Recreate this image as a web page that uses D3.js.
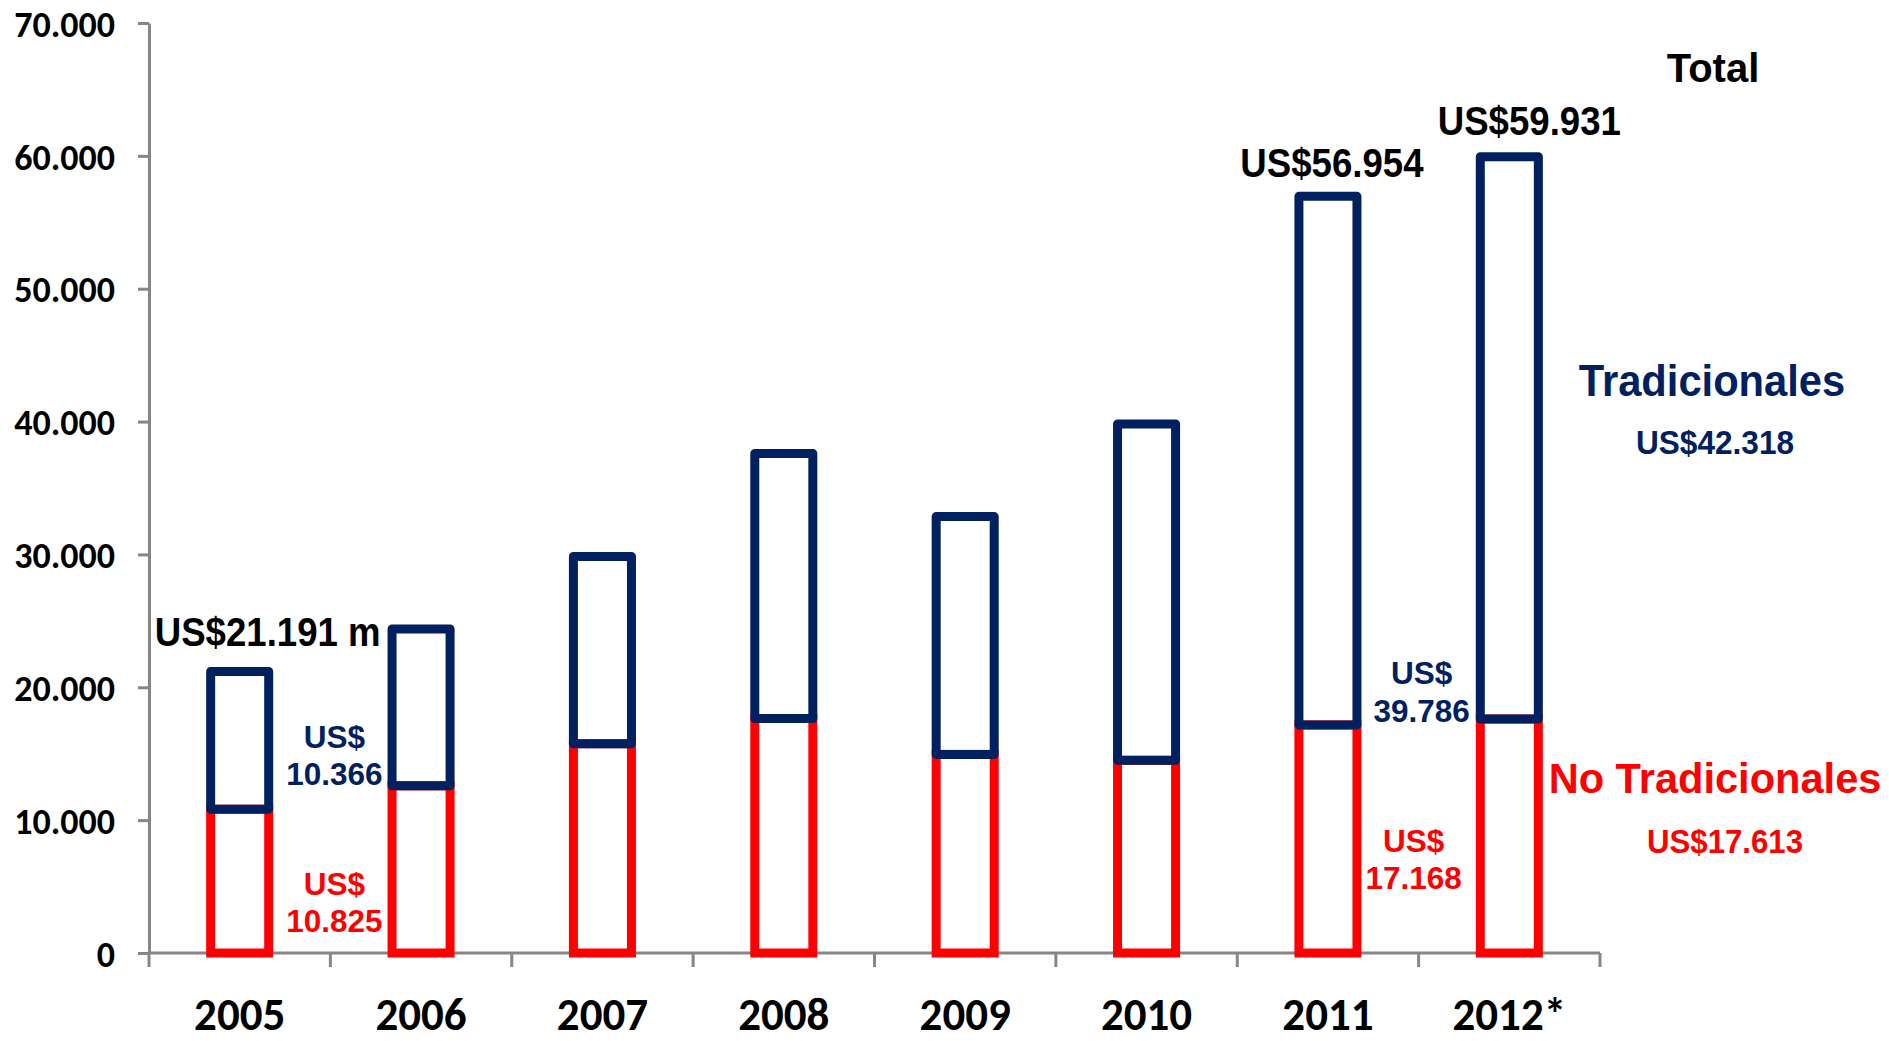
<!DOCTYPE html>
<html>
<head>
<meta charset="utf-8">
<script src="https://cdn.jsdelivr.net/npm/d3@7"></script>
<style>
  body { margin: 0; background: #fff; }
  .axis path, .axis line { stroke: #868686; stroke-width: 3; }
  .axis text { font-family: Carlito, Lato, sans-serif; font-weight: 900; fill: #000; }
</style>
</head>
<body>
<div id="chart"></div>
<script>
// exportaciones (US$ millones)
var years = ["2005", "2006", "2007", "2008", "2009", "2010", "2011", "2012*"];
var noTradicionales = [10825, 12580, 15750, 17650, 14950, 14500, 17168, 17613];
var tradicionales = [10366, 11810, 14100, 19950, 17900, 25320, 39786, 42318];
var yTicks = [0, 10000, 20000, 30000, 40000, 50000, 60000, 70000];

var navy = "#002060", red = "#ff0000";

var svg = d3.select("#chart").append("svg").attr("width", 1889).attr("height", 1041);

var x = d3.scaleBand().domain(years).range([149, 1600]).paddingInner(0.68).paddingOuter(0.34);
var y = d3.scaleLinear().domain([0, 70000]).range([953, 23]);

var fmt = function (v) { return d3.format(",")(v).replace(/,/g, "."); };

// eje Y
svg.append("g")
  .attr("class", "axis")
  .attr("transform", "translate(149,0)")
  .call(d3.axisLeft(y).tickValues(yTicks).tickSize(11).tickSizeOuter(0).tickPadding(23).tickFormat(fmt))
  .call(function (g) {
    g.selectAll("text").attr("font-size", 36).attr("dy", "0.36em").attr("transform", "scale(1,1.02)");
  });

// eje X: linea y marcas entre categorias
var xAxis = svg.append("g").attr("class", "axis");
xAxis.append("line").attr("x1", 149).attr("x2", 1600).attr("y1", y(0)).attr("y2", y(0));
xAxis.selectAll(".sep")
  .data(d3.range(years.length + 1))
  .enter().append("line")
  .attr("x1", function (i) { return 149 + i * x.step(); })
  .attr("x2", function (i) { return 149 + i * x.step(); })
  .attr("y1", y(0)).attr("y2", y(0) + 14);

function label(text, cx, by, size, sy, color, family, weight) {
  svg.append("text")
    .attr("transform", "translate(" + cx + "," + by + ") scale(1," + sy + ")")
    .attr("text-anchor", "middle")
    .attr("font-family", family || "'Liberation Sans', Arial, sans-serif")
    .attr("font-weight", weight || "bold")
    .attr("font-size", size)
    .attr("fill", color)
    .text(text);
}

// años
years.forEach(function (d) {
  label(d, x(d) + x.bandwidth() / 2, 1030, 45, 1.02, "#000", "Carlito, Lato, sans-serif", 900);
});

// barras: no tradicionales (abajo) y tradicionales (arriba)
svg.selectAll(".noTrad")
  .data(years)
  .enter().append("rect")
  .attr("class", "noTrad")
  .attr("x", function (d) { return x(d); })
  .attr("width", x.bandwidth())
  .attr("y", function (d, i) { return y(noTradicionales[i]); })
  .attr("height", function (d, i) { return y(0) - y(noTradicionales[i]); })
  .attr("fill", "none")
  .attr("stroke", red)
  .attr("stroke-width", 9);

svg.selectAll(".trad")
  .data(years)
  .enter().append("rect")
  .attr("class", "trad")
  .attr("x", function (d) { return x(d); })
  .attr("width", x.bandwidth())
  .attr("y", function (d, i) { return y(noTradicionales[i] + tradicionales[i]); })
  .attr("height", function (d, i) { return y(noTradicionales[i]) - y(noTradicionales[i] + tradicionales[i]); })
  .attr("fill", "none")
  .attr("stroke", navy)
  .attr("stroke-width", 9)
  .attr("stroke-linejoin", "round");

// totales
var mid = function (d) { return x(d) + x.bandwidth() / 2; };
var total = function (i) { return noTradicionales[i] + tradicionales[i]; };
label("US$" + fmt(total(0)) + " m", mid("2005") + 28, y(total(0)) - 25, 36.6, 1.1, "#000");
label("US$" + fmt(total(6)), mid("2011") + 4, y(total(6)) - 19, 36.6, 1.1, "#000");
label("US$" + fmt(total(7)), mid("2012*") + 20, y(total(7)) - 22, 36.6, 1.1, "#000");

// valores entre barras
var b1 = 149 + x.step(), b7 = 149 + 7 * x.step();
label("US$", b1 + 4, 748, 31.5, 1.02, navy);
label(fmt(tradicionales[0]), b1 + 4, 785, 31.5, 1.02, navy);
label("US$", b1 + 4, 895, 31.5, 1.02, red);
label(fmt(noTradicionales[0]), b1 + 4, 932, 31.5, 1.02, red);
label("US$", b7 + 3, 684, 31.5, 1.02, navy);
label(fmt(tradicionales[6]), b7 + 3, 722, 31.5, 1.02, navy);
label("US$", b7 - 5, 852, 31.5, 1.02, red);
label(fmt(noTradicionales[6]), b7 - 5, 889, 31.5, 1.02, red);

// leyenda derecha
label("Total", 1713, 82, 40, 1.02, "#000");
label("Tradicionales", 1712, 396, 41.7, 1.07, navy);
label("US$" + fmt(tradicionales[7]), 1715, 454, 31.6, 1.05, navy);
label("No Tradicionales", 1715, 793, 41.6, 1.02, red);
label("US$" + fmt(noTradicionales[7]), 1725, 853, 31.2, 1.05, red);
</script>
</body>
</html>
